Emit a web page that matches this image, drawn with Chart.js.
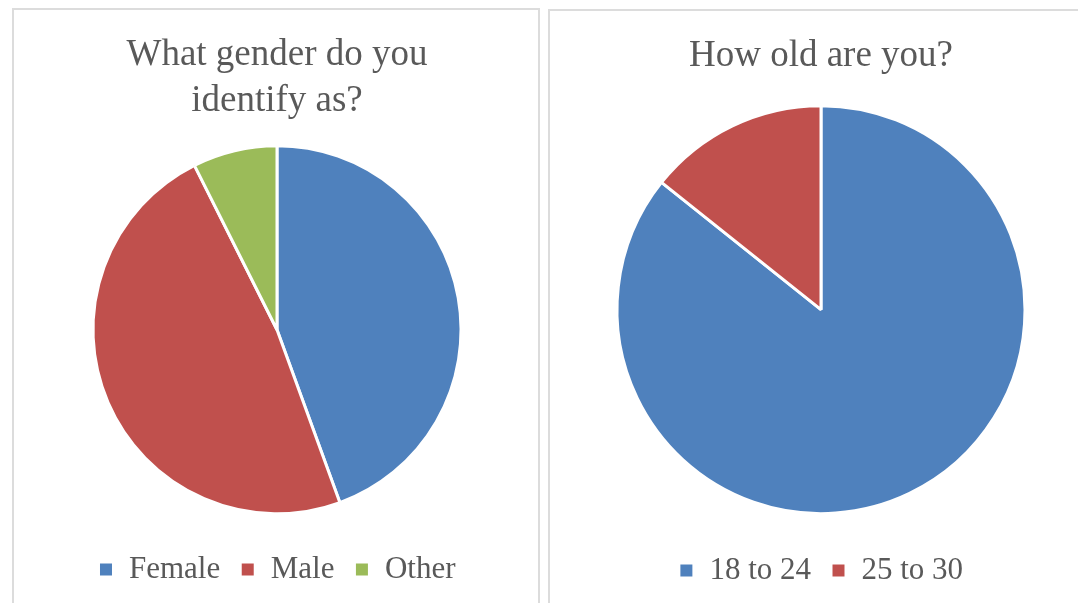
<!DOCTYPE html>
<html>
<head>
<meta charset="utf-8">
<script src="https://cdn.jsdelivr.net/npm/chart.js@4.4.1/dist/chart.umd.min.js"></script>
<style>
  body { margin: 0; background: #fff; width: 1078px; height: 603px; overflow: hidden; position: relative; }
  .panel { position: absolute; border: 2px solid #dcdcdc; box-sizing: border-box; }
  .wrap { position: absolute; }
</style>
</head>
<body>
<div class="panel" style="left:12px; top:8px; width:528px; height:700px;"></div>
<div class="panel" style="left:548px; top:9px; width:560px; height:700px;"></div>
<div class="wrap" style="left:12px; top:8px; width:527px; height:595px;"><canvas id="PieChartOne"></canvas></div>
<div class="wrap" style="left:548px; top:9px; width:546px; height:594px;"><canvas id="PieChartTwo"></canvas></div>
<script>
const genderLabels = ['Female', 'Male', 'Other'];
const genderCounts = [12, 13, 2];
const ageLabels = ['18 to 24', '25 to 30'];
const ageCounts = [24, 4];

const blue = '#4f81bd';
const red = '#c0504d';
const green = '#9bbb59';
const textColor = '#595959';
const serif = "'Liberation Serif', 'Times New Roman', serif";

Chart.defaults.font.family = serif;
Chart.defaults.color = textColor;

// legend boxes get the white slice border, so draw them a bit bigger
const legendOpts = {
  position: 'bottom',
  labels: {
    boxWidth: 15,
    boxHeight: 15,
    padding: 20,
    color: textColor,
    font: { size: 31 }
  }
};

const ctx = document.getElementById('PieChartOne')
  const PieChartOne = new Chart(ctx, {
    type: 'pie',
    data: {
      labels: genderLabels,
      datasets: [{
        data: genderCounts,
        backgroundColor: [blue, red, green],
        borderColor: '#ffffff',
        borderWidth: 3
      }]
    },
    options: {
      responsive: true,
      maintainAspectRatio: false,
      animation: false,
      radius: 184,
      layout: { padding: { left: 3, top: 0, bottom: 8 } },
      plugins: {
        legend: legendOpts,
        tooltip: { enabled: false },
        title: {
          display: true,
          text: ['What gender do you', 'identify as?'],
          color: textColor,
          font: { size: 37, weight: 'normal', lineHeight: 1.25 },
          padding: { top: 24, bottom: 1 }
        }
      }
    }
  });

const ctx2 = document.getElementById('PieChartTwo')
  const PieChartTwo = new Chart(ctx2, {
    type: 'pie',
    data: {
      labels: ageLabels,
      datasets: [{
        data: ageCounts,
        backgroundColor: [blue, red],
        borderColor: '#ffffff',
        borderWidth: 3
      }]
    },
    options: {
      responsive: true,
      maintainAspectRatio: false,
      animation: false,
      radius: 204,
      layout: { padding: { top: 0, bottom: 7 } },
      plugins: {
        legend: legendOpts,
        tooltip: { enabled: false },
        title: {
          display: true,
          text: 'How old are you?',
          color: textColor,
          font: { size: 37, weight: 'normal', lineHeight: 1.25 },
          padding: { top: 24, bottom: 5 }
        }
      }
    }
  });
</script>
</body>
</html>
